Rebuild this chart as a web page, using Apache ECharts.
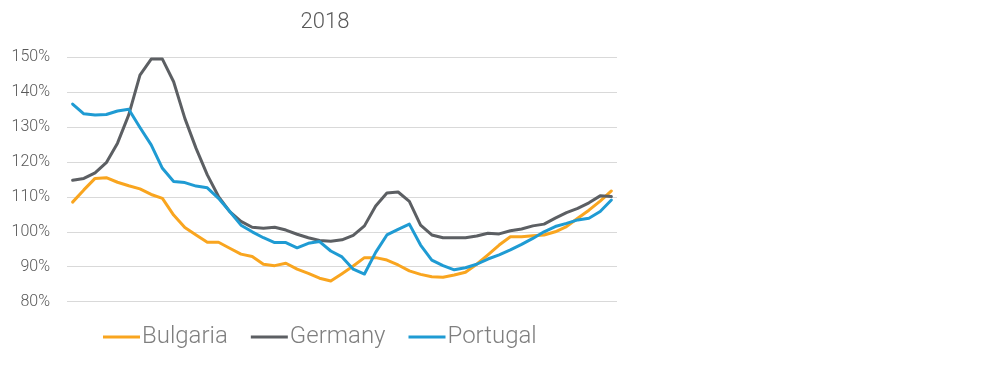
<!DOCTYPE html>
<html>
<head>
<meta charset="utf-8">
<script src="https://cdn.jsdelivr.net/npm/echarts@6/dist/echarts.min.js"></script>
<style>html,body{margin:0;padding:0;background:#fff}#c{width:1000px;height:390px}</style>
</head>
<body>
<div id="c"></div>
<script>
var weeks = [];
for (var i = 1; i <= 49; i++) weeks.push(String(i));
var titleText = '2018';
var seriesNames = ['Bulgaria', 'Germany', 'Portugal'];
var bulgaria = [108.5,112.0,115.3,115.5,114.2,113.2,112.3,110.7,109.6,104.8,101.2,99.1,97.0,97.0,95.3,93.6,92.9,90.7,90.3,91.0,89.3,88.1,86.7,85.9,88.0,90.2,92.6,92.6,91.9,90.5,88.8,87.8,87.1,87.0,87.6,88.4,90.7,93.4,96.2,98.6,98.6,98.9,99.1,100.0,101.5,103.9,106.2,108.8,111.7];
var germany = [114.8,115.3,116.9,119.8,125.4,133.5,144.9,149.5,149.5,143.0,132.5,123.9,116.3,110.1,105.8,103.0,101.3,101.0,101.3,100.5,99.3,98.3,97.5,97.3,97.7,99.0,101.7,107.4,111.1,111.4,108.7,101.9,99.1,98.3,98.3,98.3,98.8,99.6,99.4,100.3,100.8,101.7,102.2,103.9,105.5,106.7,108.3,110.3,110.1];
var portugal = [136.6,133.8,133.5,133.6,134.6,135.1,129.9,124.9,118.2,114.4,114.1,113.1,112.6,109.6,105.8,101.9,100.0,98.3,96.9,96.9,95.4,96.7,97.2,94.5,92.8,89.3,87.9,94.1,99.1,100.7,102.2,96.2,91.9,90.3,89.1,89.7,90.7,92.2,93.4,94.8,96.4,98.1,100.0,101.5,102.4,103.4,103.9,105.8,109.1];
var colors = ['#F9A51F', '#5C5F63', '#1F9BD3'];
var yMin = 80, yMax = 150, yStep = 10;

var chart = echarts.init(document.getElementById('c'), null, {renderer: 'canvas'});
function mk(name, data, color) {
  return {
    name: name, type: 'line', data: data, showSymbol: false, symbol: 'none',
    lineStyle: {width: 3, color: color, cap: 'round', join: 'round'},
    itemStyle: {color: color}, animation: false
  };
}
chart.setOption({
  animation: false,
  title: {text: titleText, left: 320, top: 6, textAlign: 'center',
    textStyle: {fontFamily: 'Roboto', fontWeight: 300, fontSize: 22, color: '#595959'}},
  legend: {
    data: seriesNames.map(function (n) { return {name: n, icon: 'rect'}; }),
    left: 98, top: 320, itemWidth: 37, itemHeight: 3, itemGap: 23,
    textStyle: {fontFamily: 'Roboto', fontWeight: 300, fontSize: 24, color: '#7F7F7F', padding: [0, 0, 0, -3]}
  },
  grid: {left: 67, right: 383, top: 57.3, bottom: 88.4, containLabel: false},
  xAxis: {type: 'category', data: weeks, boundaryGap: true,
    axisLine: {show: false}, axisTick: {show: false}, axisLabel: {show: false}, splitLine: {show: false}},
  yAxis: {type: 'value', min: yMin, max: yMax, interval: yStep,
    axisLine: {show: false}, axisTick: {show: false},
    axisLabel: {formatter: '{value}%', margin: 17, fontFamily: 'Roboto', fontWeight: 300, fontSize: 16, color: '#595959'},
    splitLine: {lineStyle: {color: '#D9D9D9', width: 1}}},
  series: [mk(seriesNames[0], bulgaria, colors[0]), mk(seriesNames[1], germany, colors[1]), mk(seriesNames[2], portugal, colors[2])]
});
</script>
</body>
</html>
